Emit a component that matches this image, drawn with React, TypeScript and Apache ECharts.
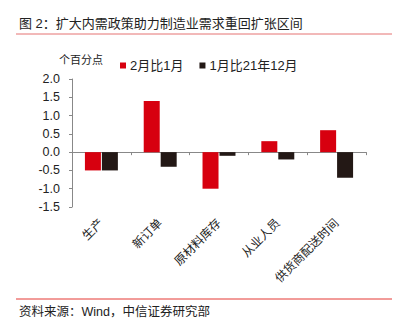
import React, { useEffect, useRef } from "react";
import * as echarts from "echarts";

const categories = ["生产", "新订单", "原材料库存", "从业人员", "供货商配送时间"];
const febVsJan = [-0.5, 1.4, -1.0, 0.3, 0.6];
const janVsDec = [-0.5, -0.4, -0.1, -0.2, -0.7];
const seriesNames = ["2月比1月", "1月比21年12月"];
const titleText = "图 2：扩大内需政策助力制造业需求重回扩张区间";
const sourceText = "资料来源：Wind，中信证券研究部";
const unitText = "个百分点";

const FONT = "'Liberation Sans', Arial, 'Noto Sans CJK SC', sans-serif";

export default function App() {
  const ref = useRef<HTMLDivElement>(null);
  useEffect(() => {
    document.body.style.margin = "0";
    const chart = echarts.init(ref.current!, null, { renderer: "svg" });
    chart.setOption({
      animation: false,
      textStyle: { fontFamily: FONT },
      graphic: [
        {
          type: "text",
          left: 19,
          top: 17,
          style: { text: titleText, font: `13px ${FONT}`, fill: "#222" },
        },
        {
          type: "line",
          shape: { x1: 16, y1: 34, x2: 392, y2: 34 },
          style: { stroke: "#e57373", lineWidth: 1 },
        },
        {
          type: "text",
          left: 59,
          top: 54,
          style: { text: unitText, font: `11px ${FONT}`, fill: "#222" },
        },
        {
          type: "line",
          shape: { x1: 16, y1: 299, x2: 392, y2: 299 },
          style: { stroke: "#e53935", lineWidth: 1 },
        },
        {
          type: "text",
          left: 19,
          top: 306,
          style: { text: sourceText, font: `12.5px ${FONT}`, fill: "#222" },
        },
      ],
      legend: {
        left: 115,
        top: 54,
        itemWidth: 6,
        itemHeight: 6,
        itemGap: 16,
        icon: "rect",
        textStyle: { fontSize: 13, color: "#222", fontFamily: FONT, padding: [0, 0, 0, -1] },
        data: seriesNames,
      },
      grid: {
        left: 72,
        right: 33,
        top: 79,
        bottom: 124,
        containLabel: false,
        outerBoundsMode: "none",
      },
      xAxis: {
        type: "category",
        data: categories,
        axisLine: { onZero: true, lineStyle: { color: "#888", width: 1 } },
        axisTick: { show: true, length: 3, lineStyle: { color: "#888" } },
        axisLabel: {
          rotate: 45,
          margin: 14,
          fontSize: 12,
          color: "#222",
          fontFamily: FONT,
          interval: 0,
        },
      },
      yAxis: {
        type: "value",
        min: -1.5,
        max: 2.0,
        interval: 0.5,
        splitLine: { show: false },
        axisLine: { show: true, lineStyle: { color: "#888" } },
        axisTick: { show: true, length: 3, lineStyle: { color: "#888" } },
        axisLabel: {
          margin: 12,
          fontSize: 12.5,
          color: "#222",
          fontFamily: FONT,
          formatter: (v: number) => v.toFixed(1),
        },
      },
      series: [
        {
          name: seriesNames[0],
          type: "bar",
          data: febVsJan,
          barWidth: 16,
          barGap: "6%",
          itemStyle: { color: "#d7000f" },
        },
        {
          name: seriesNames[1],
          type: "bar",
          data: janVsDec,
          barWidth: 16,
          itemStyle: { color: "#231815" },
        },
      ],
    });
    return () => chart.dispose();
  }, []);
  return <div ref={ref} style={{ width: 399, height: 331, position: "absolute", left: 0, top: 0 }} />;
}
